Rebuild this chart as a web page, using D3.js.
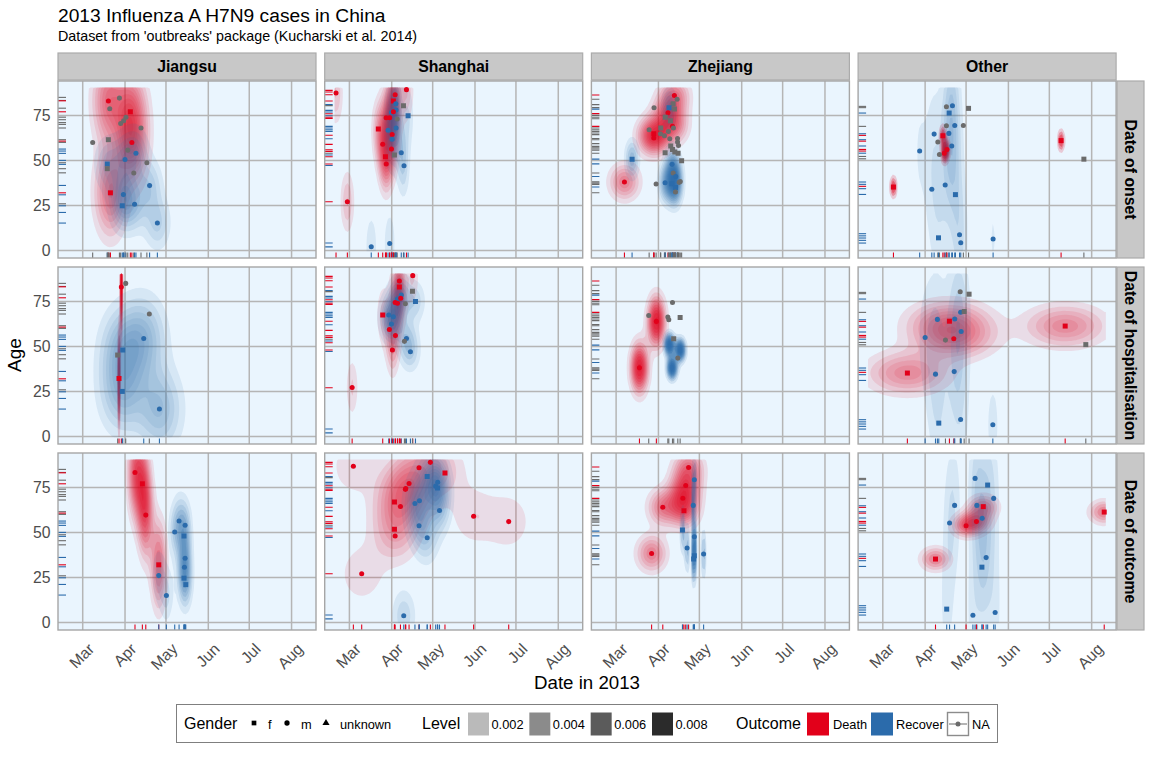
<!DOCTYPE html>
<html><head><meta charset="utf-8">
<script src="https://cdn.jsdelivr.net/npm/d3@7"></script>
<style>html,body{margin:0;padding:0;background:#fff}svg{display:block}text{font-family:"Liberation Sans",Arial,sans-serif}</style>
</head><body><svg id="c" width="1152" height="768"></svg>
<script>
const provinces = ["Jiangsu","Shanghai","Zhejiang","Other"];
const dateTypes = ["Date of onset","Date of hospitalisation","Date of outcome"];
const monthLabels = ["Mar","Apr","May","Jun","Jul","Aug"];
const monthDays = [0,31,61,92,122,153];
const ageTicks = [0,25,50,75];
const legendGender = [["f",254,268],["m",287,301],["unknown",326,340]];
const legendLevels = [0.002,0.004,0.006,0.008];
const outcomeNames = {D:"Death",R:"Recover",N:"NA"};

// [days since 1 March, age, gender, outcome]
const jiangsu_onset = [[18.8,83,"m","D"],[26.9,84.6,"m","N"],[19.8,78.7,"m","N"],[34.9,77,"f","D"],[31.7,74,"m","N"],[27.8,70.5,"m","N"],[30,72,"m","N"],[42.7,68,"m","N"],[7.3,60,"m","N"],[18.8,61.5,"f","N"],[36,60,"m","D"],[33,55.7,"m","N"],[39,54,"m","R"],[31,50.5,"m","R"],[18,48,"f","R"],[18,45.4,"f","N"],[47,48.7,"m","N"],[37.4,43,"m","N"],[49,36,"m","R"],[20.3,32,"f","D"],[29.8,31,"m","R"],[38,25.7,"m","R"],[29,24.8,"f","R"],[54.7,15.2,"m","R"]];
const shanghai_onset = [[-9.8,87.4,"m","D"],[-1.5,27,"m","D"],[16,2,"m","R"],[29.5,3.9,"m","R"],[41.8,89.3,"m","D"],[33.5,86.5,"m","D"],[32.2,83,"f","D"],[34,81.5,"m","R"],[34.2,78,"m","R"],[30.8,76.7,"m","R"],[39.6,80.4,"f","N"],[43,74.8,"f","R"],[26.9,73.7,"m","D"],[29.5,73.7,"m","D"],[35,73,"m","N"],[32.2,77,"m","D"],[21.2,67.4,"f","D"],[28.3,66.7,"m","R"],[34.2,68,"m","R"],[31.3,64.4,"m","D"],[31.3,61.7,"m","R"],[24.4,59,"m","D"],[30.8,56.3,"m","D"],[38,54.3,"m","R"],[33,53,"f","N"],[26.4,52,"f","D"],[27,48,"m","D"],[40,47,"m","R"]];
const zhejiang_onset = [[6.1,38,"m","D"],[11.7,50.7,"f","R"],[42.7,86,"m","D"],[44.7,84,"m","N"],[41.8,81.5,"f","N"],[42.7,78.5,"f","N"],[38.8,79.3,"f","R"],[27.8,79.3,"m","N"],[38,76.5,"m","D"],[36,74,"f","N"],[39.8,72,"f","N"],[41.3,69,"m","D"],[42,68,"m","N"],[32.7,68,"f","N"],[24.2,67,"m","N"],[38.3,66,"m","N"],[32.5,64.8,"m","N"],[27.6,64.8,"f","D"],[27.6,62.4,"m","D"],[35.4,63.7,"m","N"],[39.3,62,"m","N"],[45,62.2,"m","N"],[45,60.2,"m","N"],[45.7,58.3,"m","N"],[40,58,"f","N"],[41.3,56,"f","N"],[43,54.6,"f","N"],[45.4,54,"f","N"],[35.9,54.3,"f","N"],[48,49.8,"f","N"],[41,47.8,"m","R"],[41.8,43,"m","N"],[43.7,41,"m","R"],[47,38.3,"m","N"],[46.2,37.8,"m","N"],[35.9,37.6,"m","R"],[29.3,36.9,"m","N"],[40.8,37,"f","R"],[43.5,35,"f","R"],[43.5,32.4,"m","N"]];
const other_onset = [[46.6,79.8,"m","N"],[51,80.4,"m","R"],[62.8,78.9,"f","N"],[48.6,76.3,"f","R"],[46.6,69.3,"m","N"],[52.7,69.4,"m","R"],[59,69.4,"m","N"],[37.6,64.6,"m","R"],[44,63.7,"f","D"],[48.4,65,"m","R"],[40.3,60.2,"m","N"],[50.5,58,"m","R"],[47,56,"m","D"],[45,54,"m","D"],[41.5,53.3,"m","N"],[27,55.2,"m","R"],[130.6,61,"f","D"],[147.3,50.7,"f","N"],[7.8,35.2,"f","D"],[35.9,34,"m","R"],[45.7,36.3,"m","R"],[53.2,31,"f","R"],[40.8,7,"f","R"],[56.2,8.7,"m","R"],[57.1,4.3,"m","R"],[80.8,6.3,"m","R"]];

const jiangsu_hosp = [[28.3,83,"m","D"],[31.5,85,"m","N"],[48.8,68,"m","N"],[44.7,54.4,"m","R"],[29.3,48,"f","R"],[25.6,45.2,"f","N"],[26.6,32.2,"f","D"],[29,25,"f","R"],[56.2,15.2,"m","R"]];
const shanghai_hosp = [[46.4,89.3,"m","D"],[36.6,86.3,"m","D"],[36.6,83,"f","D"],[46.2,80.6,"f","N"],[38,78.5,"m","R"],[35.2,76.3,"m","R"],[37.6,76.7,"m","D"],[48.4,75,"f","R"],[41,73.7,"m","N"],[33.5,74.4,"m","D"],[35.2,74,"m","D"],[28.8,67.4,"m","R"],[24.4,67.4,"f","D"],[32.2,66.5,"m","R"],[30.8,62.4,"m","R"],[29.3,59.4,"m","D"],[33.7,56,"m","D"],[41.8,54.4,"m","R"],[40.3,52.8,"m","N"],[31.5,48,"m","D"],[44.7,47,"m","R"],[2,27.2,"m","D"]];
const zhejiang_hosp = [[41.3,74.4,"m","N"],[23.9,67.2,"m","N"],[37.9,66.3,"m","N"],[38.6,64.8,"m","N"],[46.9,66.1,"f","N"],[29.5,63.9,"m","D"],[42.2,54.3,"f","N"],[45.2,43.5,"m","N"],[17.1,38.1,"m","D"]];
const other_hosp = [[56.7,80.4,"m","N"],[63.2,79,"f","N"],[57,69,"m","R"],[59.6,69.4,"f","N"],[40,65,"m","R"],[52.7,65.2,"m","R"],[48.8,64,"f","D"],[57.4,58.3,"m","R"],[31,55,"m","R"],[45.9,53.5,"m","N"],[52,54.3,"m","D"],[133.6,61.3,"f","D"],[148.7,51,"f","N"],[18,35.2,"f","D"],[38.6,34.6,"m","R"],[52.3,36,"m","R"],[57,9.4,"m","R"],[41,7.4,"f","R"],[80.6,6.5,"m","R"]];

const jiangsu_outcome = [[38.3,83.3,"m","D"],[43.7,77,"f","D"],[46.2,59.6,"m","D"],[70.6,56.3,"m","R"],[75,54,"m","R"],[67.4,50.2,"m","R"],[74.2,48,"f","R"],[75,35.6,"m","R"],[74.5,30.7,"m","R"],[55.7,32,"f","D"],[55.7,26,"m","R"],[74.2,24.6,"f","R"],[75.5,21,"f","R"],[61.3,15,"m","R"]];
const shanghai_outcome = [[2.9,86.7,"m","D"],[9,27,"m","D"],[59.3,88.9,"m","D"],[51,85.9,"m","D"],[70,83,"f","D"],[57,81,"f","R"],[64.7,77.8,"m","R"],[63.2,75.7,"m","R"],[64.5,74.6,"f","R"],[43.7,77.2,"m","D"],[41.3,74.4,"m","D"],[41,73.9,"m","D"],[33,66.9,"f","D"],[37.4,64.4,"m","D"],[51.3,67.6,"m","R"],[48,66,"m","R"],[66,62.2,"m","R"],[91,59,"m","D"],[116.7,56,"m","D"],[33,51.7,"f","D"],[33.5,48,"m","D"],[51,53.7,"m","R"],[57,47,"m","R"],[39.8,3.7,"m","R"]];
const zhejiang_outcome = [[53.1,86,"m","D"],[57.3,79.3,"m","R"],[51,76,"m","D"],[48.9,69,"m","D"],[56.5,65,"m","R"],[34.2,64,"m","D"],[49.7,62,"f","D"],[48.6,51.3,"f","R"],[57.3,47.6,"m","R"],[52,41.3,"m","R"],[64.1,38,"m","R"],[57.3,37,"f","R"],[56.8,35.2,"f","R"],[26,38.3,"m","D"]];
const other_outcome = [[67.6,80,"m","R"],[76.8,76.3,"f","R"],[81.2,68.9,"m","R"],[52.6,65,"m","R"],[68.9,65,"m","R"],[73.6,64.3,"f","D"],[72.8,57.8,"m","R"],[68.6,56,"m","D"],[48.9,55.2,"m","R"],[61,53.7,"m","D"],[162.2,61.3,"f","D"],[38.6,35.2,"f","D"],[75.7,36,"m","R"],[72.6,30.7,"f","R"],[46.8,7.4,"f","R"],[66,4,"m","R"],[82.3,5.5,"m","R"]];

// Cases that feed a density in the reference but show no visible point of their own
const zhejiang_hosp_hidden = [[39,51,"m","R"],[47,48,"m","R"],[41,38,"m","R"]];

// Age rugs: every case of the province, [age, outcome]
const rug_jiangsu = [[85,"N"],[83.3,"N"],[83.1,"D"],[79,"N"],[77,"D"],[74,"N"],[72.6,"N"],[71,"N"],[70,"N"],[68,"N"],[61.5,"N"],[60.7,"D"],[60,"N"],[56.3,"R"],[55.2,"R"],[53.9,"R"],[50,"R"],[48.7,"N"],[47.8,"R"],[45.4,"N"],[43.1,"N"],[36.1,"R"],[32,"D"],[30.9,"R"],[25.9,"N"],[24.8,"R"],[21.1,"R"],[15.2,"R"]];
const rug_shanghai = [[88.9,"D"],[88,"D"],[86.5,"D"],[83,"D"],[81,"R"],[80.4,"N"],[77.8,"R"],[76.9,"R"],[75.9,"D"],[74.8,"R"],[74,"D"],[73.3,"D"],[68.9,"R"],[68,"R"],[67,"R"],[66.1,"R"],[64,"D"],[62,"R"],[58.9,"D"],[55.9,"D"],[55,"D"],[54,"N"],[53,"R"],[52,"D"],[48,"D"],[47.2,"R"],[27,"D"],[4.1,"R"],[2,"R"]];
const rug_zhejiang = [[86.3,"D"],[84,"N"],[81,"N"],[79.3,"N"],[78.5,"R"],[76,"D"],[75,"N"],[74,"N"],[73.1,"N"],[68.9,"D"],[68,"N"],[67,"N"],[66.1,"N"],[65.2,"N"],[64.3,"N"],[62.2,"N"],[61.5,"N"],[59.3,"N"],[57.8,"N"],[57,"N"],[56.3,"N"],[55.6,"N"],[54,"N"],[50.7,"R"],[48.1,"R"],[43,"N"],[41.1,"R"],[38.1,"N"],[37.4,"N"],[36.7,"N"],[35.2,"R"],[32,"N"]];
const rug_other = [[80,"N"],[79.3,"N"],[76.3,"R"],[68.9,"N"],[64.8,"R"],[63.9,"D"],[61.5,"R"],[60.7,"D"],[58,"R"],[56.1,"D"],[55.2,"D"],[54,"R"],[52.2,"N"],[50.9,"N"],[38,"R"],[36.7,"R"],[35.6,"D"],[34.3,"R"],[31.1,"R"],[9.3,"R"],[8.1,"R"],[6.9,"R"],[5.6,"R"],[4.1,"R"]];

const panelData = [
  [jiangsu_onset,shanghai_onset,zhejiang_onset,other_onset],
  [jiangsu_hosp,shanghai_hosp,zhejiang_hosp,other_hosp],
  [jiangsu_outcome,shanghai_outcome,zhejiang_outcome,other_outcome]];
const hiddenData = {"1,2":zhejiang_hosp_hidden};
const rugs = [rug_jiangsu,rug_shanghai,rug_zhejiang,rug_other];
// Kernel-width adjustments [x, y, contour count] per "row,column,outcome", matched to the reference
const bandAdjust = {"0,3,R":[0.8,1.5,5],"1,3,R":[0.6,1.5,5],"0,2,R":[1.3,1.1,10],"2,3,R":[0.6,1.5,5]};

const colour = {D:"#E2001A",R:"#2B6BAB",N:"#6B6B6B"};
const svg = d3.select("#c");
const panelW=258, panelH=177;
const panelX=d3.scaleLinear().domain([0,1]).range([58,324.7]);
const panelY=d3.scaleLinear().domain([0,1]).range([81,267]);
const sx=d3.scaleLinear().domain([-18.1,170.9]).range([0,panelW]);
const sy=d3.scaleLinear().domain([-4.2,94.1]).range([panelH,0]);
const alpha=d3.scaleLinear().domain([0.0002,0.0098]).range([0.1,1]).clamp(true);

const limX=[-10,162.5], limY=[0,90], nGrid=100;
const dx=(limX[1]-limX[0])/(nGrid-1), dy=(limY[1]-limY[0])/(nGrid-1);
function nrd(v){
  const s=v.slice().sort(d3.ascending);
  const iqr=(d3.quantileSorted(s,.75)-d3.quantileSorted(s,.25))/1.34;
  const sd=d3.deviation(s)||0;
  const m=Math.min(sd,iqr)||sd||1;
  return 4*1.06*m*Math.pow(v.length,-0.2);
}
function kde(pts,adj){
  const hx=nrd(pts.map(p=>p[0]))/4*adj[0], hy=nrd(pts.map(p=>p[1]))/4*adj[1];
  const z=new Array(nGrid*nGrid).fill(0);
  for(const p of pts){
    for(let j=0;j<nGrid;j++){
      const gy=limY[0]+j*dy, ey=(gy-p[1])/hy, fy=Math.exp(-.5*ey*ey)/(hy*Math.sqrt(2*Math.PI));
      for(let i=0;i<nGrid;i++){
        const gx=limX[0]+i*dx, ex=(gx-p[0])/hx;
        z[i+j*nGrid]+=fy*Math.exp(-.5*ex*ex)/(hx*Math.sqrt(2*Math.PI));
      }
    }
  }
  return z.map(v=>v/pts.length);
}
const path=d3.geoPath(d3.geoTransform({point(x,y){
  this.stream.point(sx(limX[0]+(x-.5)*dx), sy(limY[0]+(y-.5)*dy));
}}));

// Titles
svg.append("text").attr("x",58).attr("y",22).attr("font-size",19.2).attr("fill","#000").text("2013 Influenza A H7N9 cases in China");
svg.append("text").attr("x",58).attr("y",41).attr("font-size",14.3).attr("fill","#000").text("Dataset from 'outbreaks' package (Kucharski et al. 2014)");
svg.append("text").attr("x",587).attr("y",689).attr("text-anchor","middle").attr("font-size",18.7).text("Date in 2013");
svg.append("text").attr("transform","translate(21,355) rotate(-90)").attr("text-anchor","middle").attr("font-size",19).text("Age");

// Strips
provinces.forEach((name,c)=>{
  const g=svg.append("g").attr("transform",`translate(${panelX(c)},53)`);
  g.append("rect").attr("width",panelW).attr("height",27).attr("fill","#C8C8C8").attr("stroke","#ABABAB").attr("stroke-width",1.2);
  g.append("text").attr("x",panelW/2).attr("y",18.8).attr("text-anchor","middle").attr("font-weight","bold").attr("font-size",15.8).text(name);
});
dateTypes.forEach((name,r)=>{
  const g=svg.append("g").attr("transform",`translate(1117,${panelY(r)})`);
  g.append("rect").attr("width",27).attr("height",panelH).attr("fill","#C8C8C8").attr("stroke","#ABABAB").attr("stroke-width",1.2);
  g.append("text").attr("transform",`translate(8,${panelH/2}) rotate(90)`).attr("text-anchor","middle").attr("font-weight","bold").attr("font-size",15.8).text(name);
});

svg.append("defs").append("clipPath").attr("id","pc").append("rect").attr("width",panelW).attr("height",panelH);

dateTypes.forEach((_,r)=>provinces.forEach((_,c)=>{
  const g=svg.append("g").attr("transform",`translate(${panelX(c)},${panelY(r)})`);
  g.append("rect").attr("width",panelW).attr("height",panelH).attr("fill","#EAF5FE");
  const inner=g.append("g").attr("clip-path","url(#pc)");
  // grid
  inner.selectAll(".gx").data(monthDays).join("line").attr("x1",d=>sx(d)).attr("x2",d=>sx(d)).attr("y1",0).attr("y2",panelH).attr("stroke","#B5B5B5").attr("stroke-width",1.5);
  inner.selectAll(".gy").data(ageTicks).join("line").attr("y1",d=>sy(d)).attr("y2",d=>sy(d)).attr("x1",0).attr("x2",panelW).attr("stroke","#B5B5B5").attr("stroke-width",1.5);
  // densities
  const pts=panelData[r][c].concat(hiddenData[r+","+c]||[]);
  ["D","R"].forEach(o=>{
    const sub=pts.filter(p=>p[3]===o);
    if(sub.length<2) return;
    const adj=bandAdjust[[r,c,o].join(",")]||[1,1,10];
    const z=kde(sub,adj);
    const levels=d3.ticks(0,d3.max(z),adj[2]).filter(l=>l>0);
    const contours=d3.contours().size([nGrid,nGrid]).smooth(true).thresholds(levels)(z);
    inner.append("g").selectAll("path").data(contours).join("path")
      .attr("d",path).attr("fill",colour[o]).attr("fill-rule","evenodd").attr("fill-opacity",d=>alpha(d.value));
  });
  // rugs
  inner.selectAll(".rl").data(rugs[c]).join("line").attr("x1",0).attr("x2",8).attr("y1",d=>sy(d[0])).attr("y2",d=>sy(d[0])).attr("stroke",d=>colour[d[1]]).attr("stroke-width",1.1);
  inner.selectAll(".rb").data(panelData[r][c]).join("line").attr("y1",panelH-5.5).attr("y2",panelH).attr("x1",d=>sx(d[0])).attr("x2",d=>sx(d[0])).attr("stroke",d=>colour[d[3]]).attr("stroke-width",1.1);
  // points
  inner.selectAll(".pt").data(panelData[r][c]).join("path")
    .attr("transform",d=>`translate(${sx(d[0])},${sy(d[1])})`)
    .attr("d",d=>d3.symbol().type(d[2]==="f"?d3.symbolSquare:d3.symbolCircle).size(d[2]==="f"?25:20)())
    .attr("fill",d=>colour[d[3]]);
  g.append("rect").attr("width",panelW).attr("height",panelH).attr("fill","none").attr("stroke","#A6A6A6").attr("stroke-width",1.4);
  // axes
  if(c===0){
    const ax=g.append("g").call(d3.axisLeft(sy).tickValues(ageTicks).tickSize(0).tickPadding(7.5));
    ax.select(".domain").remove();
    ax.selectAll("text").attr("font-size",15.8).attr("font-family","Liberation Sans").attr("fill","#4D4D4D");
  }
  if(r===2){
    const ax=g.append("g").attr("transform",`translate(0,${panelH})`)
      .call(d3.axisBottom(sx).tickValues(monthDays).tickFormat((d,i)=>monthLabels[i]).tickSize(0));
    ax.select(".domain").remove();
    ax.selectAll("text").attr("font-size",15.8).attr("font-family","Liberation Sans").attr("fill","#4D4D4D")
      .attr("text-anchor","end").attr("dy",0).attr("y",0).attr("transform","translate(12,20) rotate(-45)");
  }
}));

// Legend
const lg=svg.append("g");
lg.append("rect").attr("x",176.5).attr("y",704.5).attr("width",821).attr("height",38).attr("fill","#fff").attr("stroke","#7F7F7F").attr("stroke-width",1);
const ltx=(x,t,fs)=>lg.append("text").attr("x",x).attr("y",fs>14?729:728.5).attr("font-size",fs).text(t);
ltx(184,"Gender",16);
ltx(422,"Level",16);
ltx(736,"Outcome",16);
legendGender.forEach((d,i)=>{
  const type=[d3.symbolSquare,d3.symbolCircle,d3.symbolTriangle][i];
  lg.append("path").attr("transform",`translate(${d[1]},723)`).attr("d",d3.symbol().type(type).size(22)()).attr("fill","#000");
  ltx(d[2],d[0],12.8);
});
const levelKeyX=d3.scaleLinear().domain([0,3]).range([468,652]);
legendLevels.forEach((l,i)=>{
  const x=levelKeyX(i);
  lg.append("rect").attr("x",x).attr("y",712.5).attr("width",21).attr("height",23).attr("fill","#000").attr("fill-opacity",alpha(l));
  ltx(x+23.5,d3.format(".3f")(l),12.8);
});
[["D",807,"Death",833],["R",871,"Recover",896]].forEach(d=>{
  lg.append("rect").attr("x",d[1]).attr("y",712.5).attr("width",22).attr("height",23).attr("fill",colour[d[0]]);
  ltx(d[3],d[2],12.8);
});
lg.append("rect").attr("x",947.5).attr("y",712.5).attr("width",21).attr("height",23).attr("fill","#fff").attr("stroke","#8C8C8C").attr("stroke-width",1.4);
lg.append("line").attr("x1",949).attr("x2",967).attr("y1",724).attr("y2",724).attr("stroke","#6B6B6B");
lg.append("circle").attr("cx",958).attr("cy",724).attr("r",2.5).attr("fill","#6B6B6B");
ltx(972,outcomeNames.N,12.8);
</script></body></html>
